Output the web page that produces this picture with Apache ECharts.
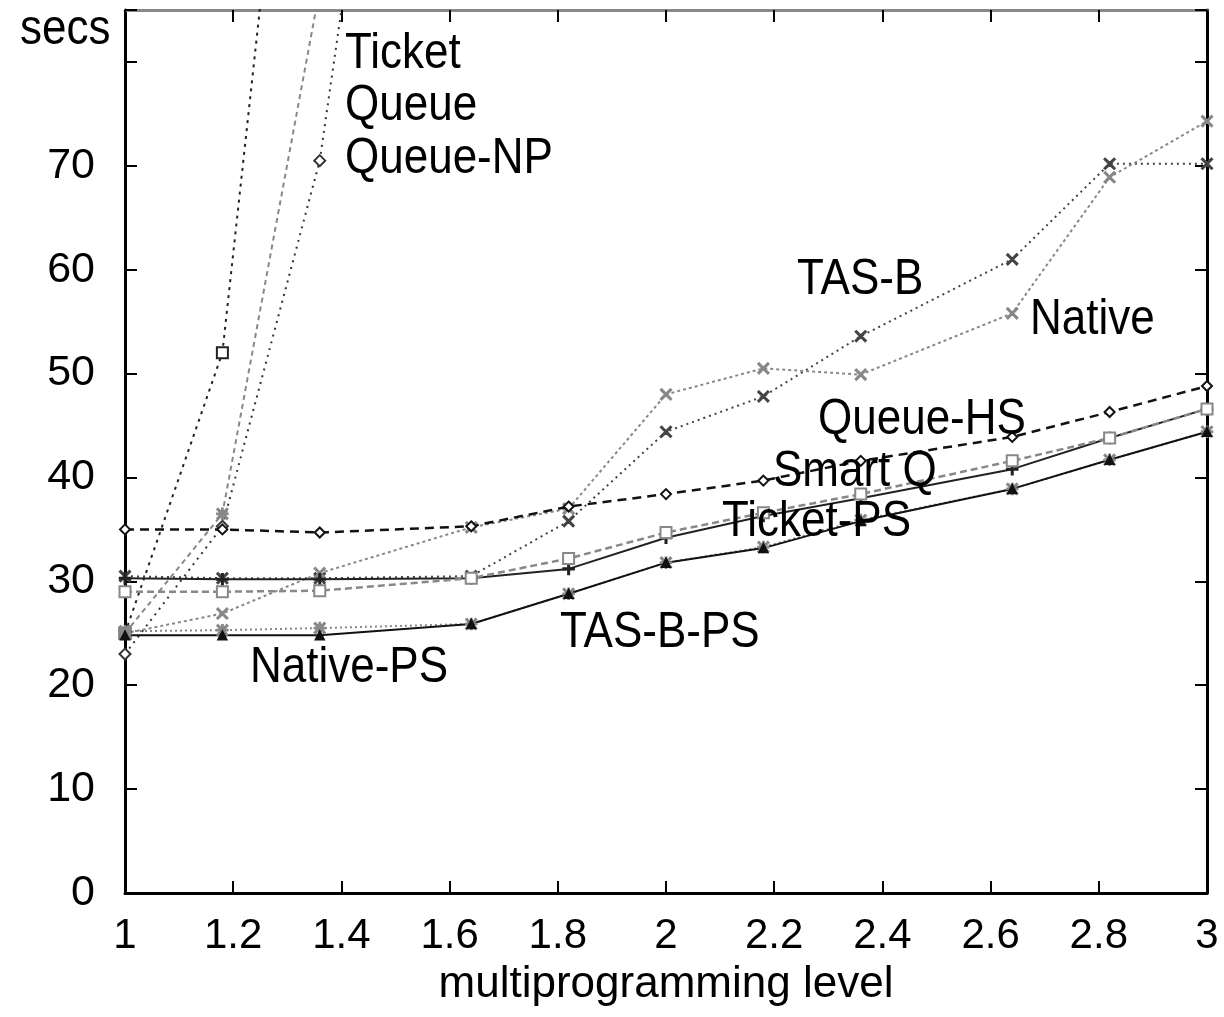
<!DOCTYPE html>
<html>
<head>
<meta charset="utf-8">
<script src="https://cdn.jsdelivr.net/npm/echarts@6/dist/echarts.min.js"></script>
<style>
  html, body { margin: 0; padding: 0; background: #fff; }
  #chart { width: 1224px; height: 1017px; }
</style>
</head>
<body>
<div id="chart"></div>
<script>
// ---- data ----
const levels   = [1, 1.18, 1.36, 1.64, 1.82, 2, 2.18, 2.36, 2.64, 2.82, 3];
const xTicks   = [1, 1.2, 1.4, 1.6, 1.8, 2, 2.2, 2.4, 2.6, 2.8, 3];
const yTicks   = [0, 10, 20, 30, 40, 50, 60, 70];
const ticket   = [25, 52, 138];
const queue    = [25, 36.5, 87];
const queueNP  = [23, 35.3, 70.5, 172];
const tasB     = [30.5, 30.3, 30.3, 30.5, 35.8, 44.4, 47.8, 53.6, 61.0, 70.2, 70.2];
const native   = [25.0, 26.9, 30.8, 35.2, 37.0, 48.0, 50.5, 49.9, 55.8, 68.9, 74.3];
const queueHS  = [35.0, 35.0, 34.7, 35.3, 37.2, 38.4, 39.7, 41.6, 43.9, 46.3, 48.8];
const smartQ   = [30.3, 30.2, 30.2, 30.3, 31.2, 34.2, 36.3, 38.0, 40.8, 43.8, 46.6];
const ticketPS = [29.0, 29.0, 29.1, 30.3, 32.2, 34.7, 36.6, 38.4, 41.6, 43.8, 46.6];
const tasBPS   = [25.2, 25.3, 25.5, 25.9, 28.8, 31.8, 33.3, 35.9, 38.9, 41.7, 44.4];
const nativePS = [24.8, 24.8, 24.8, 25.9, 28.8, 31.8, 33.2, 35.8, 38.9, 41.7, 44.4];

// ---- styling ----
const FONT = '"Liberation Sans", Arial, sans-serif';
const SYM_X = 'path://M0,1L1,0L5,4L9,0L10,1L6,5L10,9L9,10L5,6L1,10L0,9L4,5Z';
const SYM_STAR = 'path://M0,1L1,0L5,4L9,0L10,1L6,5L10,9L9,10L5,6L1,10L0,9L4,5Z M4.4,0H5.6V10H4.4Z M0,4.4H10V5.6H0Z';
const SYM_PLUS = 'path://M4.3,0H5.7V4.3H10V5.7H5.7V10H4.3V5.7H0V4.3H4.3Z';

function pairs(vals) { return vals.map((v, i) => [levels[i], v]); }

function mk(name, vals, color, dash, symbol, width, symSize) {
  return {
    name: name,
    type: 'line',
    xAxisIndex: 0,
    yAxisIndex: 0,
    data: pairs(vals),
    symbol: symbol,
    symbolSize: symSize || 11,
    showSymbol: true,
    clip: true,
    animation: false,
    lineStyle: { color: color, width: width || 2, type: dash },
    itemStyle: { color: color, borderColor: color, borderWidth: 1.5 },
    emphasis: { disabled: true }
  };
}

const chart = echarts.init(document.getElementById('chart'), null, { renderer: 'canvas' });

// label text, left x, vertical centre of capitals (pixels)
const labelTexts = [
  ['Ticket', 345, 54], ['Queue', 345, 106], ['Queue-NP', 345, 159],
  ['TAS-B', 797, 280], ['Native', 1030, 320], ['Queue-HS', 818, 420],
  ['Smart Q', 773, 472], ['Ticket-PS', 722, 522], ['TAS-B-PS', 560, 633],
  ['Native-PS', 250, 668], ['secs', 20, 30]
];

const option = {
  backgroundColor: '#fff',
  animation: false,
  grid: { left: 125, right: 17, top: 10, bottom: 124, containLabel: false },
  xAxis: [{
    type: 'value', min: 1, max: 3, interval: 0.2, position: 'bottom',
    name: 'multiprogramming level', nameLocation: 'middle', nameGap: 70,
    nameTextStyle: { fontFamily: FONT, fontSize: 44, color: '#000' },
    axisLine: { show: true, onZero: false, lineStyle: { color: '#000', width: 3 } },
    axisTick: { show: true, inside: true, length: 12, lineStyle: { color: '#000', width: 2 } },
    axisLabel: { show: true, fontFamily: FONT, fontSize: 42, color: '#000', margin: 22,
      formatter: v => { const r = Math.round(v * 10) / 10; return xTicks.includes(r) ? String(r) : ''; } },
    splitLine: { show: false }
  }, {
    type: 'value', min: 1, max: 3, interval: 0.2, position: 'top',
    axisLine: { show: true, onZero: false, lineStyle: { color: '#888', width: 3 } },
    axisTick: { show: true, inside: true, length: 12, lineStyle: { color: '#000', width: 2 } },
    axisLabel: { show: false }, splitLine: { show: false }
  }],
  yAxis: [{
    type: 'value', min: 0, max: 85, interval: 10, position: 'left',
    axisLine: { show: true, onZero: false, lineStyle: { color: '#000', width: 3 } },
    axisTick: { show: true, inside: true, length: 12, lineStyle: { color: '#000', width: 2 } },
    axisLabel: { show: true, fontFamily: FONT, fontSize: 43, color: '#000', margin: 30,
      formatter: v => yTicks.includes(Math.round(v)) && Math.abs(v - Math.round(v)) < 1e-6 ? String(Math.round(v)) : '' },
    splitLine: { show: false }
  }, {
    type: 'value', min: 0, max: 85, interval: 10, position: 'right',
    axisLine: { show: true, onZero: false, lineStyle: { color: '#000', width: 3 } },
    axisTick: { show: true, inside: true, length: 12, lineStyle: { color: '#000', width: 2 } },
    axisLabel: { show: false }, splitLine: { show: false }
  }],
  series: [
    mk('Ticket',    ticket,   '#222', [3, 5], 'emptyRect'),
    mk('Queue',     queue,    '#888', [5, 4], SYM_STAR),
    mk('Queue-NP',  queueNP,  '#333', [2, 5], 'emptyDiamond'),
    mk('TAS-B',     tasB,     '#444', [2, 4], SYM_X),
    mk('Native',    native,   '#888', [3, 3], SYM_X),
    mk('Queue-HS',  queueHS,  '#111', [9, 6], 'emptyDiamond', 2.5, 10),
    mk('Smart Q',   smartQ,   '#222', 'solid', SYM_PLUS, 2),
    mk('Ticket-PS', ticketPS, '#888', [7, 4], 'emptyRect', 2.5),
    mk('TAS-B-PS',  tasBPS,   '#888', [2, 3], SYM_STAR),
    mk('Native-PS', nativePS, '#111', 'solid', 'triangle', 2, 9)
  ],
  graphic: labelTexts.map(t => ({
    type: 'text', x: t[1], y: t[2], scaleY: 1.12, z: 100,
    style: { text: t[0], fontFamily: FONT, fontSize: 44, fill: '#000', align: 'left', verticalAlign: 'middle' }
  }))
};

chart.setOption(option);
</script>
</body>
</html>
